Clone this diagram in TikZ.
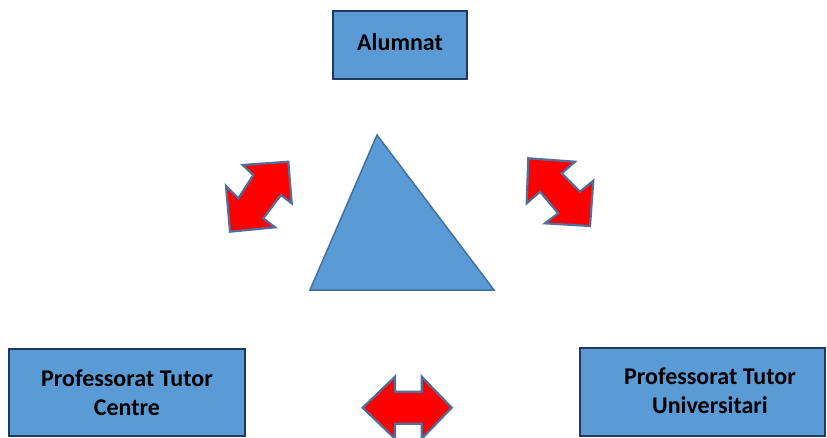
\documentclass[tikz,border=0pt]{standalone}
\usepackage{fontspec}
\setmainfont{Carlito}
\definecolor{boxfill}{HTML}{5B9BD5}
\definecolor{boxline}{HTML}{1F3864}
\definecolor{triline}{HTML}{41719C}
\definecolor{arrowline}{HTML}{4F6F9A}
\tikzset{
  rolebox/.style={draw=boxline, line width=2pt, fill=boxfill, inner sep=0pt},
  roletext/.style={align=center, font=\bfseries\fontsize{24}{29}\selectfont, inner sep=0pt},
  bigarrow/.style={draw=arrowline, line width=2.2pt, fill=red, line join=miter},
}
\begin{document}
\begin{tikzpicture}[x=1pt, y=-1pt]
\useasboundingbox (0,0) rectangle (827,437);
\clip (0,0) rectangle (827,437);
% boxes
\node[rolebox, minimum width=134pt, minimum height=68pt] (alum) at (400,45) {};
\node[roletext] (alumt) at (400,42) {Alumnat};
\node[rolebox, minimum width=236pt, minimum height=87pt] (centre) at (127,392.5) {};
\node[roletext] (centret) at (127,393) {Professorat Tutor\\Centre};
\node[rolebox, minimum width=245pt, minimum height=88pt] (univ) at (702.5,392) {};
\node[roletext] (univt) at (710,391) {Professorat Tutor\\Universitari};
% triangle
\draw[triline, line width=1.5pt, fill=boxfill, line join=miter]
  (377,135) -- (494,290) -- (310,290) -- cycle;
% left arrow
\draw[bigarrow] (242.7,165) -- (288.3,161.7) -- (291.7,203.3) -- (281,195)
  -- (263.3,218.3) -- (275,227.3) -- (230,231.7) -- (226,186) -- (238.3,198.3)
  -- (253.3,175) -- cycle;
% right arrow
\draw[bigarrow] (528.3,158.3) -- (575,161.7) -- (561.7,173.3) -- (580,191.7)
  -- (593.3,180.7) -- (590,226) -- (545,223.3) -- (558.3,213.3) -- (540,191.7)
  -- (526.7,203.3) -- cycle;
% bottom arrow
\draw[bigarrow] (362.7,407.7) -- (395,376.7) -- (395,391.7) -- (421.7,391.7)
  -- (421.7,376.7) -- (451.7,407.7) -- (421.7,438.7) -- (421.7,423.7)
  -- (395,423.7) -- (395,438.7) -- cycle;
\end{tikzpicture}
\end{document}
